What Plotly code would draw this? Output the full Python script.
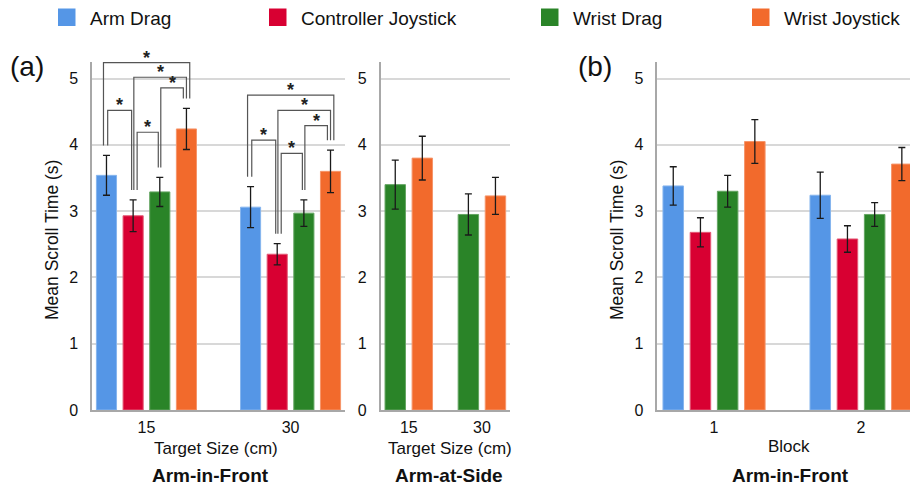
import plotly.graph_objects as go

# ---------------- data ----------------
series = ["Arm Drag", "Controller Joystick", "Wrist Drag", "Wrist Joystick"]
colors = ["#5596E6", "#D80032", "#2A8428", "#F26A2C"]
edge_colors = ["#86B5EE", "#E45A76", "#64A562", "#F6956A"]

target_sizes = ["15", "30"]
blocks = ["1", "2"]

# (a) Arm-in-Front by target size
front_arm_drag = [3.54, 3.06]
front_arm_drag_err = [0.30, 0.31]
front_ctrl_joy = [2.93, 2.35]
front_ctrl_joy_err = [0.24, 0.16]
front_wrist_drag = [3.29, 2.97]
front_wrist_drag_err = [0.22, 0.20]
front_wrist_joy = [4.24, 3.60]
front_wrist_joy_err = [0.31, 0.32]

# (a) Arm-at-Side by target size
side_wrist_drag = [3.40, 2.95]
side_wrist_drag_err = [0.37, 0.31]
side_wrist_joy = [3.80, 3.23]
side_wrist_joy_err = [0.33, 0.28]

# (b) Arm-in-Front by block
block_arm_drag = [3.38, 3.24]
block_arm_drag_err = [0.29, 0.35]
block_ctrl_joy = [2.68, 2.58]
block_ctrl_joy_err = [0.22, 0.20]
block_wrist_drag = [3.30, 2.95]
block_wrist_drag_err = [0.24, 0.18]
block_wrist_joy = [4.05, 3.71]
block_wrist_joy_err = [0.33, 0.25]

# significant pairwise comparisons (series indices) within each target size
sig_pairs = [(0, 3), (1, 3), (2, 3), (0, 1), (1, 2)]

y_ticks = [0, 1, 2, 3, 4, 5]

# ---------------- styling / layout ----------------
W, H = 910, 489
FONT = "Liberation Sans, Arial, Helvetica, sans-serif"
BARGAP = 0.26
BARGROUPGAP = 0.245
Y_RANGE = [0, 5.25]
Y_DOM = [79 / H, 427 / H]

# bracket geometry (heights of the horizontal bars, per group) and leg offsets (px)
bracket_levels = [[5.24, 5.02, 4.86, 4.52, 4.19], [4.75, 4.52, 4.29, 4.07, 3.87]]
leg_offsets_px = [(-3, 3.3), (0.7, 0), (1, -3.1), (1.2, -1.5), (4, -1.5)]
leg_gap = 0.15

front_means = [front_arm_drag, front_ctrl_joy, front_wrist_drag, front_wrist_joy]
front_errs = [front_arm_drag_err, front_ctrl_joy_err, front_wrist_drag_err, front_wrist_joy_err]
side_means = [side_wrist_drag, side_wrist_joy]
side_errs = [side_wrist_drag_err, side_wrist_joy_err]
side_idx = [2, 3]
block_means = [block_arm_drag, block_ctrl_joy, block_wrist_drag, block_wrist_joy]
block_errs = [block_arm_drag_err, block_ctrl_joy_err, block_wrist_drag_err, block_wrist_joy_err]

fig = go.Figure()


def add_bar(i, y, err, xa, ya):
    fig.add_trace(go.Bar(
        x=[0, 1], y=y, name=series[i], showlegend=False,
        marker=dict(color=colors[i], line=dict(color=edge_colors[i], width=1)),
        error_y=dict(type="data", array=err, color="#1a1a1a", thickness=1.3, width=3.5),
        xaxis=xa, yaxis=ya,
    ))


for i in range(4):
    add_bar(i, front_means[i], front_errs[i], "x", "y")
for k, i in enumerate(side_idx):
    add_bar(i, side_means[k], side_errs[k], "x2", "y2")
for i in range(4):
    add_bar(i, block_means[i], block_errs[i], "x3", "y3")

x_ranges = [[-0.378, 1.378], [-0.384, 1.384], [-0.386, 1.333]]
x_domains = [[92 / W, 345 / W], [380.7 / W, 510 / W], [657.3 / W, 1.0]]
ticktexts = [target_sizes, target_sizes, blocks]

axis_line = "#A8A8A8"
layout = dict(
    width=W, height=H,
    margin=dict(l=0, r=0, t=0, b=0, autoexpand=False),
    paper_bgcolor="white", plot_bgcolor="white",
    barmode="group", bargap=BARGAP, bargroupgap=BARGROUPGAP,
    showlegend=False,
    font=dict(family=FONT, color="#111111", size=16),
)
for n in range(3):
    sfx = "" if n == 0 else str(n + 1)
    layout["xaxis" + sfx] = dict(
        domain=x_domains[n], range=x_ranges[n], anchor="y" + sfx,
        tickvals=[0, 1], ticktext=ticktexts[n], showgrid=False, zeroline=False,
        showline=True, linecolor=axis_line, linewidth=1.5, ticks="",
        ticklabelstandoff=2, tickfont=dict(size=16, family=FONT, color="#111"),
        fixedrange=True,
    )
    layout["yaxis" + sfx] = dict(
        domain=Y_DOM, range=Y_RANGE, anchor="x" + sfx,
        tickvals=y_ticks, showgrid=True, gridcolor="#D8D8D8", gridwidth=1.5,
        zeroline=False, showline=True, linecolor=axis_line, linewidth=1.5,
        ticks="", ticklabelstandoff=9, tickfont=dict(size=16, family=FONT, color="#111"),
        fixedrange=True,
    )
fig.update_layout(**layout)

# ---------------- significance brackets ----------------
slot = (1 - BARGAP) / 4
px_per_cat = (x_domains[0][1] - x_domains[0][0]) * W / (x_ranges[0][1] - x_ranges[0][0])


def bar_center(g, k):
    return g - (1 - BARGAP) / 2 + slot * (k + 0.5)


shapes = []
annotations = []
for g in range(2):
    for b, (i, j) in enumerate(sig_pairs):
        top = bracket_levels[g][b]
        xl = bar_center(g, i) + leg_offsets_px[b][0] / px_per_cat
        xr = bar_center(g, j) + leg_offsets_px[b][1] / px_per_cat
        yl = front_means[i][g] + front_errs[i][g] + leg_gap
        yr = front_means[j][g] + front_errs[j][g] + leg_gap
        shapes.append(dict(
            type="path", xref="x", yref="y",
            path=f"M {xl},{yl} L {xl},{top} L {xr},{top} L {xr},{yr}",
            line=dict(color="#555555", width=1.2),
        ))
        annotations.append(dict(
            x=(xl + xr) / 2, y=top, xref="x", yref="y", text="<b>*</b>", showarrow=False,
            yanchor="bottom", yshift=-7, font=dict(size=18, color="#222", family=FONT),
        ))


def P(px, py):
    return px / W, 1 - py / H


def text_ann(txt, px, py, size, bold=False, angle=0):
    x, y = P(px, py)
    annotations.append(dict(
        x=x, y=y, xref="paper", yref="paper", text=f"<b>{txt}</b>" if bold else txt,
        showarrow=False, xanchor="center", yanchor="middle", textangle=angle,
        font=dict(size=size, family=FONT, color="#111"),
    ))


# axis titles and panel titles
text_ann("Mean Scroll Time (s)", 52, 240, 17.5, angle=-90)
text_ann("Mean Scroll Time (s)", 617, 240, 17.5, angle=-90)
text_ann("Target Size (cm)", 215.5, 448, 17)
text_ann("Target Size (cm)", 449.5, 448, 17)
text_ann("Block", 789, 446, 17)
text_ann("Arm-in-Front", 210.5, 475, 19, bold=True)
text_ann("Arm-at-Side", 448.5, 475, 19, bold=True)
text_ann("Arm-in-Front", 790, 475, 19, bold=True)
text_ann("(a)", 27, 66, 28)
text_ann("(b)", 595, 66, 28)

# legend (drawn from the series list)
legend_x = [58, 269, 541, 752]
for i, name in enumerate(series):
    x0, y0 = P(legend_x[i], 8.5)
    x1, y1 = P(legend_x[i] + 17.5, 26)
    shapes.append(dict(type="rect", xref="paper", yref="paper", x0=x0, x1=x1, y0=y1, y1=y0,
                       fillcolor=colors[i], line=dict(width=0)))
    tx, ty = P(legend_x[i] + 30, 18)
    annotations.append(dict(
        x=tx, y=ty, xref="paper", yref="paper", text=name, showarrow=False,
        xanchor="left", yanchor="middle", font=dict(size=19, family=FONT, color="#111"),
    ))

fig.update_layout(shapes=shapes, annotations=annotations)
fig.write_html(
    "out.html",
    config={"displayModeBar": False},
    post_script="document.body.style.margin='0';document.body.style.overflow='hidden';",
)
